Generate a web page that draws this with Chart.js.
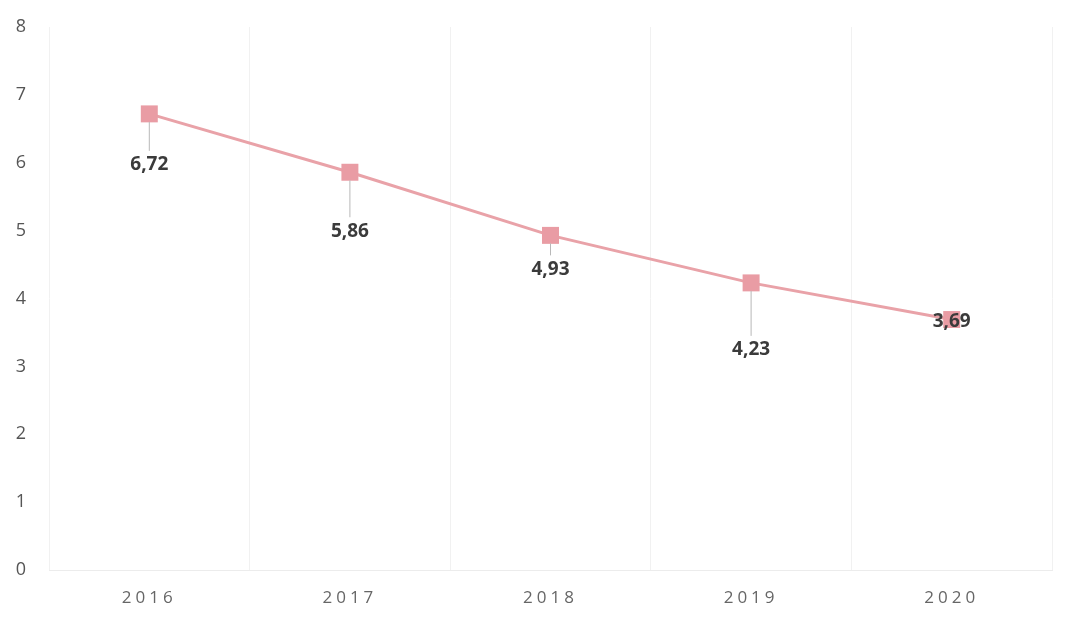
<!DOCTYPE html>
<html>
<head>
<meta charset="utf-8">
<script src="https://cdn.jsdelivr.net/npm/chart.js@4.4.1/dist/chart.umd.min.js"></script>
<style>
  html, body { margin: 0; padding: 0; background: #ffffff; }
  #wrap { width: 1065px; height: 642px; position: relative; }
</style>
</head>
<body>
<div id="wrap"><canvas id="rateChart"></canvas></div>
<script>
const years = ["2016", "2017", "2018", "2019", "2020"];
const rates = [6.72, 5.86, 4.93, 4.23, 3.69];
const yTicks = [0, 1, 2, 3, 4, 5, 6, 7, 8];

const lineColor = "#e9a2a8";
const markerColor = "#e99ca4";

function formatRate(value) {
  return value.toFixed(2).replace(".", ",");
}

// labels under the points, with a thin leader line when they sit far away
const valueLabels = {
  id: "valueLabels",
  beforeDraw(chart) {
    chart.ctx.letterSpacing = "0px";
  },
  afterDatasetsDraw(chart) {
    // year labels are drawn after this, spaced out a little
    chart.ctx.letterSpacing = "4px";
  },
  afterDraw(chart, args, opts) {
    const ctx = chart.ctx;
    const meta = chart.getDatasetMeta(0);
    ctx.save();
    ctx.letterSpacing = "0px";
    meta.data.forEach((point, i) => {
      const gap = opts.gaps[i];
      const labelY = point.y + gap;
      if (gap > 25) {
        ctx.strokeStyle = "#b8b8b8";
        ctx.lineWidth = 1;
        ctx.beginPath();
        ctx.moveTo(point.x, point.y + 8);
        ctx.lineTo(point.x, labelY - 14);
        ctx.stroke();
      }
      ctx.fillStyle = "#3b3b3b";
      ctx.font = "bold 19px 'Open Sans'";
      ctx.textAlign = "center";
      ctx.textBaseline = "middle";
      ctx.fillText(formatRate(rates[i]), point.x, labelY);
    });
    ctx.restore();
  }
};

new Chart(document.getElementById("rateChart"), {
  type: "line",
  data: {
    labels: years,
    datasets: [{
      data: rates,
      borderColor: lineColor,
      borderWidth: 3,
      tension: 0,
      pointStyle: "rect",
      pointRadius: 12,
      pointHoverRadius: 12,
      pointBackgroundColor: markerColor,
      pointBorderColor: markerColor,
      pointBorderWidth: 0
    }]
  },
  options: {
    responsive: true,
    maintainAspectRatio: false,
    animation: false,
    layout: {
      autoPadding: false,
      padding: { top: 27, right: 13, bottom: 0, left: 0 }
    },
    plugins: {
      legend: { display: false },
      tooltip: { enabled: false },
      valueLabels: { gaps: [51, 59, 34, 67, 2] }
    },
    scales: {
      x: {
        offset: true,
        grid: { offset: true, color: "#f1f1f1", drawTicks: false },
        border: { color: "#ececec" },
        ticks: {
          z: 1,
          padding: 18,
          color: "#666666",
          font: { family: "'Open Sans'", size: 17 }
        },
        afterFit(scale) { scale.height = 72; }
      },
      y: {
        min: yTicks[0],
        max: yTicks[yTicks.length - 1],
        afterBuildTicks(scale) {
          scale.ticks = yTicks.map((v) => ({ value: v }));
        },
        grid: { display: false, drawTicks: false },
        border: { display: false },
        ticks: {
          padding: 23,
          color: "#555555",
          font: { family: "'Open Sans'", size: 18 }
        },
        afterFit(scale) {
          scale.width = 49;
          // tick padding is meant horizontally here, not above the top label
          scale.paddingTop = 0;
          scale.paddingBottom = 0;
        }
      }
    }
  },
  plugins: [valueLabels]
});
</script>
</body>
</html>
